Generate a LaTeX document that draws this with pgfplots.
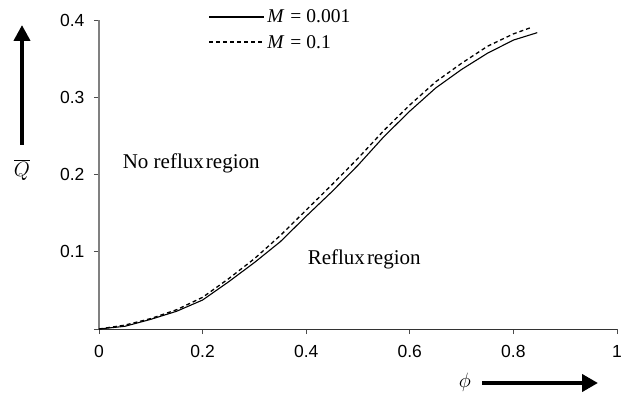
\documentclass[border=0pt]{standalone}
\usepackage{fontspec}
\setmainfont{Liberation Serif}
\newfontfamily\ticksf{Liberation Sans}
\usepackage{pgfplots}
\pgfplotsset{compat=1.18}
\usetikzlibrary{arrows.meta}
\begin{document}
\begin{tikzpicture}
\path[use as bounding box] (-99pt,-65pt) rectangle (528pt,329pt);
\begin{axis}[
  at={(0,0)}, anchor=south west,
  scale only axis, width=518pt, height=309pt,
  xmin=0, xmax=1, ymin=0, ymax=0.4,
  axis x line*=bottom, axis y line*=left,
  x axis line style={black!80, line width=0.9pt, -},
  y axis line style={black!50, line width=1.2pt, -},
  xtick={0,0.2,0.4,0.6,0.8,1},
  xticklabels={0,0.2,0.4,0.6,0.8,1},
  ytick={0,0.1,0.2,0.3,0.4},
  yticklabels={,0.1,0.2,0.3,0.4},
  tick align=outside, major tick length=5pt,
  tick style={black!70, line width=0.8pt},
  tick label style={font=\ticksf\fontsize{17.5}{19}\selectfont},
  /pgf/number format/assume math mode=true,
  xticklabel style={yshift=-8pt},
  yticklabel style={xshift=-6pt},
  legend style={at={(0.205,1.047)}, anchor=north west, draw=none, fill=none,
    font=\fontsize{19.5}{21}\selectfont, row sep=7pt,
    /tikz/every even column/.append style={column sep=0pt}},
  legend cell align=left,
  legend image code/.code={\draw[#1, line width=1.9pt] (0pt,0pt) -- (55pt,0pt);},
  clip=false,
]
\addplot[black, line width=1.1pt] coordinates {
(0,0) (0.05,0.0035) (0.1,0.0125) (0.15,0.023) (0.2,0.0375) (0.25,0.061)
(0.3,0.086) (0.35,0.113) (0.4,0.146) (0.45,0.178) (0.5,0.212) (0.55,0.249)
(0.6,0.282) (0.65,0.312) (0.7,0.336) (0.75,0.357) (0.8,0.374) (0.846,0.3836)
};
\addlegendentry{\textit{M}\hspace{6pt}=\hspace{5pt}0.001}
\addplot[black, line width=1.3pt, dash pattern=on 4pt off 3pt] coordinates {
(0,0) (0.05,0.005) (0.1,0.0135) (0.15,0.025) (0.2,0.041) (0.25,0.065)
(0.3,0.091) (0.35,0.121) (0.4,0.154) (0.45,0.187) (0.5,0.221) (0.55,0.257)
(0.6,0.29) (0.65,0.32) (0.7,0.344) (0.75,0.366) (0.8,0.382) (0.835,0.3905)
};
\addlegendentry{\textit{M}\hspace{6pt}=\hspace{5pt}0.1}
\node[font=\fontsize{21}{23}\selectfont] at (axis cs:0.178,0.214) {No reflux\hspace{0.1em}region};
\node[font=\fontsize{21}{23}\selectfont] at (axis cs:0.512,0.09) {Reflux\hspace{0.1em}region};
\end{axis}
\draw[line width=4pt, -{Triangle[length=16pt,width=16pt]}] (-77pt,184pt) -- (-77pt,304pt);
\node[font=\fontsize{21}{23}\selectfont] at (-77pt,159pt) {$\overline{Q}$};
\draw[line width=4pt, -{Triangle[length=16pt,width=17pt]}] (383pt,-54pt) -- (499pt,-54pt);
\node[font=\fontsize{22}{24}\selectfont] at (366pt,-53pt) {$\phi$};
\end{tikzpicture}
\end{document}
